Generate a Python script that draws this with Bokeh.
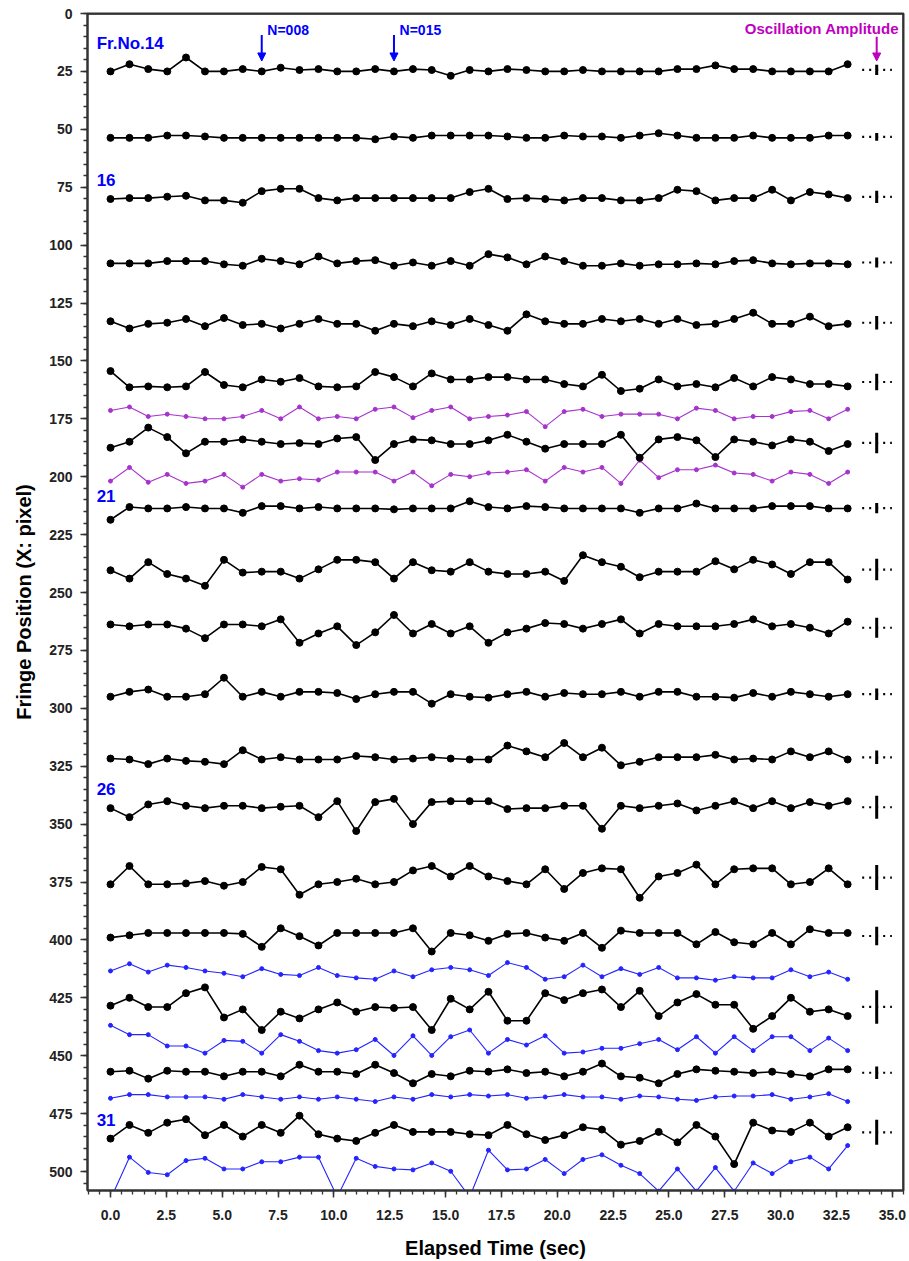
from bokeh.plotting import figure
from bokeh.models import (Range1d, LinearAxis, FixedTicker, NumeralTickFormatter,
                          Arrow, NormalHead, ColumnDataSource, Label)
from bokeh.embed import file_html
from bokeh.resources import INLINE

# ---------------- data ----------------
time = [0.00, 0.85, 1.69, 2.54, 3.38, 4.23, 5.08, 5.92, 6.77, 7.62,
        8.46, 9.31, 10.15, 11.00, 11.85, 12.69, 13.54, 14.38, 15.23, 16.08,
        16.92, 17.77, 18.62, 19.46, 20.31, 21.15, 22.00, 22.85, 23.69, 24.54,
        25.38, 26.23, 27.08, 27.92, 28.77, 29.62, 30.46, 31.31, 32.15, 33.00]

fr14 = [25, 21.9, 24, 25, 19, 25, 25, 24, 25, 23.4, 24.4, 24, 25, 25, 24, 25, 24, 24.4, 26.9, 24.4,
        25, 24, 24.4, 25, 25, 24.4, 25, 25, 25, 25, 24, 24, 22.4, 24, 24, 25, 25, 25, 25, 21.9]
fr15 = [53.7, 53.7, 53.7, 52.7, 52.7, 53.1, 53.7, 53.7, 53.7, 53.7, 53.7, 53.7, 53.7, 53.7, 54.3, 53.1, 53.7, 52.7, 52.7,
        52.7, 52.7, 53.1, 53.7, 53.7, 52.7, 53.1, 53.1, 53.7, 52.7, 51.7, 52.7, 53.7, 53.7, 53.7, 52.7, 53.7, 53.7, 53.7, 52.7, 52.7]
fr16 = [80.1, 79.7, 79.7, 79.1, 78.7, 80.7, 80.7, 81.7, 76.7, 75.7, 75.7, 79.7, 80.7, 79.7, 79.7, 79.7, 79.7, 79.7, 79.7,
        77.1, 75.7, 80.1, 79.7, 80.1, 80.7, 79.7, 79.7, 80.7, 80.7, 79.7, 76.1, 76.7, 80.7, 79.7, 79.7, 76.1, 80.7, 77.1, 78.1, 79.7]
fr17 = [107.9, 107.9, 107.9, 106.9, 106.9, 106.9, 108.3, 108.9, 105.9, 106.9, 108.3, 104.9, 107.9, 106.9, 106.5, 108.9, 107.5, 108.9, 106.9,
        108.9, 103.9, 105.3, 108.3, 104.9, 106.9, 108.9, 108.9, 107.9, 108.9, 108.3, 108.3, 107.9, 108.3, 106.9, 106.5, 107.9, 108.3, 107.9, 107.9, 108.3]
fr18 = [132.9, 136.0, 134.0, 133.5, 131.9, 135.0, 131.5, 134.5, 134.0, 136.0, 134.0, 131.9, 134.0, 134.0, 137.0, 134.0, 135.0, 132.9, 134.5,
        131.9, 134.5, 137.0, 129.9, 132.9, 134.0, 134.0, 131.9, 132.9, 131.9, 134.0, 131.9, 134.5, 134.0, 131.9, 129.2, 134.0, 134.0, 130.9, 135.0, 134.0]
fr19 = [154.4, 161.4, 161.0, 161.4, 161.0, 154.8, 160.4, 161.4, 158.0, 159.0, 157.4, 161.0, 161.4, 161.0, 154.8, 157.0, 161.0, 155.4, 158.0,
        158.0, 157.0, 157.0, 158.0, 158.0, 160.0, 161.0, 156.0, 163.0, 162.0, 158.0, 161.0, 160.0, 161.4, 157.4, 161.0, 157.0, 158.0, 160.0, 160.0, 161.0]
pur1 = [171.4, 169.9, 174.0, 173.0, 174.0, 175.0, 175.0, 174.0, 171.4, 175.0, 169.9, 175.0, 174.0, 175.0, 170.9, 169.9, 174.5, 171.4, 169.9,
        175.0, 174.0, 173.4, 171.9, 178.4, 171.9, 170.9, 174.0, 173.0, 173.0, 173.0, 175.0, 170.4, 171.4, 175.0, 174.0, 174.0, 171.9, 171.4, 175.0, 170.9]
fr20 = [187.5, 184.9, 178.8, 182.9, 189.9, 184.9, 184.9, 183.9, 184.9, 185.9, 185.5, 185.9, 183.5, 182.9, 192.8, 185.9, 183.9, 184.3, 185.9,
        185.9, 184.3, 181.9, 184.9, 187.9, 185.9, 185.9, 185.9, 181.9, 191.8, 183.9, 182.9, 184.3, 191.5, 183.9, 184.9, 186.5, 183.9, 184.9, 188.9, 185.9]
pur2 = [201.9, 196.0, 202.4, 199.0, 202.9, 201.9, 199.0, 204.5, 199.0, 201.9, 200.9, 201.4, 198.0, 198.0, 198.0, 201.9, 198.0, 203.9, 199.0,
        200.0, 198.4, 198.0, 197.0, 201.9, 196.0, 198.0, 196.0, 202.9, 192.9, 200.4, 197.0, 197.0, 195.0, 198.4, 199.0, 201.9, 198.0, 199.0, 202.9, 198.0]
fr21 = [218.6, 213.1, 213.7, 213.7, 213.1, 213.7, 213.7, 215.6, 212.7, 212.7, 213.7, 213.1, 213.7, 213.7, 213.7, 214.1, 213.7, 213.7, 213.7,
        210.6, 213.1, 213.7, 212.7, 213.1, 213.7, 213.7, 213.7, 213.7, 215.6, 213.7, 213.7, 211.6, 213.7, 213.7, 213.7, 212.7, 212.7, 212.7, 213.7, 213.7]
fr22 = [240.4, 244.0, 236.9, 242.0, 244.0, 247.1, 235.9, 241.4, 241.0, 241.0, 244.0, 240.0, 235.9, 235.9, 236.9, 244.0, 236.9, 240.4, 241.0,
        236.9, 241.0, 242.0, 242.0, 241.0, 245.0, 233.9, 236.9, 238.9, 243.4, 241.0, 241.0, 241.0, 236.5, 240.0, 235.9, 237.9, 242.0, 236.9, 236.9, 244.4]
fr23 = [263.8, 264.6, 263.8, 263.8, 265.6, 269.7, 263.8, 263.8, 264.6, 261.6, 271.7, 267.7, 264.6, 272.7, 267.2, 259.7, 267.7, 263.6, 267.7,
        264.6, 271.7, 267.2, 265.6, 263.2, 263.6, 265.6, 263.6, 261.6, 267.7, 263.6, 264.6, 264.6, 264.6, 263.6, 261.6, 264.6, 263.6, 265.2, 267.7, 262.6]
fr24 = [295.0, 292.9, 291.9, 295.0, 295.0, 293.9, 286.8, 295.0, 292.9, 295.0, 292.9, 292.9, 293.4, 296.0, 293.9, 292.9, 292.9, 298.0, 293.9,
        295.0, 295.4, 293.9, 292.9, 295.0, 293.4, 293.9, 293.9, 292.9, 295.0, 292.9, 292.9, 295.0, 295.0, 295.4, 293.4, 295.0, 292.9, 293.9, 295.0, 293.9]
fr25 = [321.7, 322.1, 324.1, 321.7, 322.7, 323.1, 324.1, 318.1, 322.1, 321.1, 322.1, 322.1, 322.1, 320.6, 321.1, 322.1, 321.7, 321.1, 321.7,
        322.1, 322.1, 316.1, 318.6, 321.1, 315.0, 321.1, 317.0, 324.6, 323.1, 321.1, 321.1, 321.1, 320.1, 322.1, 321.7, 322.1, 318.6, 321.1, 318.6, 322.1]
fr26 = [343.1, 347.0, 341.5, 340.1, 342.1, 343.1, 342.1, 342.1, 343.1, 342.5, 342.1, 347.0, 340.1, 353.0, 340.5, 339.1, 350.0, 340.5, 340.1,
        340.1, 340.1, 343.5, 343.1, 343.1, 342.1, 342.1, 352.0, 342.1, 343.1, 342.1, 341.1, 344.1, 342.1, 340.1, 343.1, 340.1, 343.1, 340.5, 342.1, 340.1]
fr27 = [376.0, 368.1, 376.0, 376.0, 375.6, 374.6, 376.6, 375.0, 368.5, 369.5, 380.5, 376.0, 375.0, 373.6, 376.0, 375.0, 370.0, 368.1, 372.6,
        368.1, 372.6, 374.6, 376.0, 369.5, 378.0, 371.1, 369.1, 369.5, 381.8, 372.6, 371.1, 367.5, 376.0, 369.5, 369.1, 369.1, 376.0, 375.0, 369.1, 376.0]
fr28 = [399.0, 398.0, 397.0, 397.0, 397.0, 397.0, 397.0, 397.4, 403.0, 395.0, 398.4, 402.4, 397.0, 397.0, 397.0, 397.0, 395.0, 405.0, 397.0,
        398.0, 400.4, 397.4, 397.0, 399.0, 400.4, 397.0, 403.4, 396.0, 397.0, 397.0, 397.0, 401.9, 396.6, 401.0, 401.9, 397.0, 401.9, 395.4, 397.0, 397.0]
blu1 = [413.4, 410.3, 413.9, 410.9, 411.9, 413.4, 414.4, 415.9, 412.4, 414.9, 415.4, 411.9, 415.4, 416.4, 417.0, 413.4, 415.9, 412.9, 411.9,
        412.9, 415.4, 409.8, 411.9, 417.0, 415.9, 410.9, 415.9, 412.4, 414.9, 411.9, 416.4, 416.4, 417.4, 415.9, 416.4, 416.4, 412.9, 415.9, 413.9, 417.0]
fr29 = [428.4, 425.0, 429.0, 429.0, 423.0, 420.5, 433.5, 430.0, 438.9, 431.0, 433.9, 430.0, 427.0, 431.0, 429.0, 429.4, 429.0, 438.9, 425.4,
        430.0, 422.4, 434.9, 434.9, 423.0, 426.0, 423.0, 421.4, 429.0, 422.0, 432.9, 427.0, 423.4, 428.0, 428.0, 438.4, 432.9, 425.0, 431.0, 430.0, 432.9]
blu2 = [436.9, 440.9, 440.9, 445.8, 445.8, 448.9, 443.4, 443.8, 448.9, 440.9, 443.8, 447.8, 448.9, 447.4, 443.0, 449.9, 441.4, 449.9, 441.8,
        438.9, 448.9, 443.0, 445.4, 441.4, 448.9, 448.4, 446.8, 446.8, 444.8, 443.0, 447.4, 441.8, 448.9, 441.8, 447.8, 441.8, 441.8, 447.8, 442.4, 447.8]
fr30 = [456.9, 456.5, 459.9, 456.5, 456.9, 456.9, 458.9, 456.9, 456.9, 458.9, 453.9, 456.9, 456.9, 457.9, 453.9, 457.5, 461.9, 457.9, 458.9,
        456.5, 456.9, 455.9, 457.5, 456.9, 458.9, 456.9, 453.4, 458.9, 459.5, 461.9, 457.9, 455.9, 456.5, 456.9, 457.5, 456.9, 457.9, 458.9, 455.9, 455.9]
blu3 = [468.4, 466.8, 466.8, 467.8, 467.8, 467.8, 468.8, 466.8, 467.8, 468.8, 467.8, 468.8, 467.8, 468.8, 469.8, 467.8, 468.8, 466.8, 467.8,
        466.8, 467.4, 466.8, 468.4, 467.8, 466.8, 467.8, 467.8, 468.8, 467.4, 467.8, 468.8, 469.3, 467.8, 467.4, 467.4, 466.8, 468.8, 467.8, 466.4, 469.8]
fr31 = [485.8, 479.9, 483.3, 478.9, 477.4, 484.3, 479.9, 484.9, 479.9, 483.3, 475.9, 483.9, 485.8, 486.8, 483.3, 479.9, 482.9, 482.9, 482.9,
        483.9, 484.3, 479.9, 483.9, 486.4, 484.3, 480.9, 481.9, 488.4, 486.8, 482.9, 487.4, 479.9, 484.9, 496.8, 478.9, 482.3, 482.9, 478.9, 484.9, 480.9]
blu4 = [512.0, 493.8, 500.4, 501.4, 495.3, 494.3, 498.9, 498.9, 495.8, 495.8, 493.8, 493.8, 511.0, 494.3, 497.8, 498.9, 499.3, 496.3, 499.9,
        511.0, 490.8, 499.3, 498.9, 494.8, 500.9, 494.8, 492.8, 497.3, 500.9, 508.5, 498.9, 508.5, 498.3, 508.5, 496.3, 500.9, 495.8, 493.8, 498.9, 488.8]

black_series = [fr14, fr15, fr16, fr17, fr18, fr19, fr20, fr21, fr22, fr23,
                fr24, fr25, fr26, fr27, fr28, fr29, fr30, fr31]
purple_series = [pur1, pur2]
blue_series = [blu1, blu2, blu3, blu4]

# oscillation amplitude (full bar length, pixel) per black fringe
amplitude = [4.4, 3.4, 5.3, 4.3, 5.8, 7.2, 8.9, 4.4, 9.3, 8.7,
             5.0, 5.8, 10.0, 10.8, 7.9, 14.4, 5.5, 10.8]

frame_names = ["Fr.No.14", "16", "21", "26", "31"]
marked_frames = [8, 15]          # N=008, N=015
x_ticks = [0, 2.5, 5, 7.5, 10, 12.5, 15, 17.5, 20, 22.5, 25, 27.5, 30, 32.5, 35]
y_ticks = list(range(0, 501, 25))

# ---------------- styling ----------------
FONT = "Liberation Sans"
BLUE = "#0000FF"
LBLUE = "#2424FF"
PURPLE = "#A633CC"
MAGENTA = "#C000C0"
AX = "#333333"
X0, X1 = -1.03, 35.5
Y0, Y1 = 0, 508.2

p = figure(width=909, height=1261, output_backend="svg", toolbar_location=None,
           x_range=Range1d(X0, X1), y_range=Range1d(Y1, Y0),
           min_border_left=87, min_border_right=6, min_border_top=13, min_border_bottom=70,
           background_fill_color="white", border_fill_color="white")
p.xgrid.visible = False
p.ygrid.visible = False
p.outline_line_color = AX
p.outline_line_width = 2

minor_x = [v * 0.5 for v in range(-2, 72)]
minor_y = list(range(0, 510, 5))


def style_axis(ax):
    ax.axis_line_color = AX
    ax.axis_line_width = 2
    ax.major_tick_line_color = AX
    ax.major_tick_line_width = 1.5
    ax.minor_tick_line_color = AX
    ax.minor_tick_line_width = 1.3
    ax.major_tick_in = 0
    ax.major_tick_out = 7
    ax.minor_tick_in = 0
    ax.minor_tick_out = 4
    ax.major_label_text_font = FONT
    ax.major_label_text_font_style = "bold"
    ax.major_label_text_color = "#222222"
    ax.major_label_text_font_size = "14px"
    ax.axis_label_text_font = FONT
    ax.axis_label_text_font_style = "bold"
    ax.axis_label_text_color = "black"
    ax.axis_label_text_font_size = "20px"


xb = p.xaxis[0]
xb.ticker = FixedTicker(ticks=x_ticks, minor_ticks=minor_x)
xb.formatter = NumeralTickFormatter(format="0.0")
xb.axis_label = "Elapsed Time (sec)"
style_axis(xb)
xb.major_label_standoff = 12
xb.axis_label_standoff = 14

yl = p.yaxis[0]
yl.ticker = FixedTicker(ticks=y_ticks, minor_ticks=minor_y)
yl.axis_label = "Fringe Position (X: pixel)"
style_axis(yl)
yl.major_label_standoff = 8
yl.axis_label_standoff = 11


def tick_only_axis(ticks, out, loc):
    ax = LinearAxis(ticker=FixedTicker(ticks=[], minor_ticks=ticks), fixed_location=loc)
    style_axis(ax)
    ax.minor_tick_out = out
    ax.major_label_standoff = 0
    return ax


# top and right frame edges: ticks only (major and minor lengths)
p.add_layout(tick_only_axis(x_ticks, 7, Y0), "above")
p.add_layout(tick_only_axis(minor_x, 4, Y0), "above")
p.add_layout(tick_only_axis(y_ticks, 5, X1), "right")
p.add_layout(tick_only_axis(minor_y, 3, X1), "right")

# ---------------- series ----------------
for s in purple_series:
    p.line(time, s, line_color=PURPLE, line_width=1.1)
    p.scatter(time, s, size=4, color=PURPLE)
for s in blue_series:
    p.line(time, s, line_color=LBLUE, line_width=1.1)
    p.scatter(time, s, size=4, color=LBLUE)
for s in black_series:
    p.line(time, s, line_color="black", line_width=1.6)
    p.scatter(time, s, size=7, color="black")

# ---------------- oscillation amplitude markers ----------------
means = [sum(s) / len(s) for s in black_series]
amp_src = ColumnDataSource(dict(
    m=means,
    lo=[m - a / 2 for m, a in zip(means, amplitude)],
    hi=[m + a / 2 for m, a in zip(means, amplitude)],
))
AMP_X = 34.3
p.segment(x0=33.65, y0="m", x1=34.98, y1="m", source=amp_src,
          line_color="black", line_width=2.2, line_dash="2 5")
p.segment(x0=AMP_X, y0="lo", x1=AMP_X, y1="hi", source=amp_src,
          line_color="black", line_width=3)

# ---------------- annotations ----------------
label_y = [13, 72, 208.5, 334.8, 477.7]
for name, ly in zip(frame_names, label_y):
    p.add_layout(Label(x=-0.62, y=ly, text=name, text_font=FONT, text_font_style="bold",
                       text_font_size="17px", text_color=BLUE, text_baseline="middle"))

for idx in marked_frames:
    tx = time[idx]
    p.add_layout(Arrow(end=NormalHead(size=8, fill_color=BLUE, line_color=BLUE),
                       x_start=tx, y_start=9.3, x_end=tx, y_end=20.5,
                       line_color=BLUE, line_width=2))
    p.add_layout(Label(x=tx + 0.25, y=7.0, text="N=%03d" % idx, text_font=FONT,
                       text_font_style="bold", text_font_size="14px", text_color=BLUE,
                       text_baseline="middle"))

p.add_layout(Arrow(end=NormalHead(size=8, fill_color=MAGENTA, line_color=MAGENTA),
                   x_start=AMP_X, y_start=10, x_end=AMP_X, y_end=20.5,
                   line_color=MAGENTA, line_width=2))
p.add_layout(Label(x=35.3, y=6.6, text="Oscillation Amplitude", text_font=FONT,
                   text_font_style="bold", text_font_size="15px", text_color=MAGENTA,
                   text_align="right", text_baseline="middle"))

open("out.html", "w").write(file_html(p, INLINE))
